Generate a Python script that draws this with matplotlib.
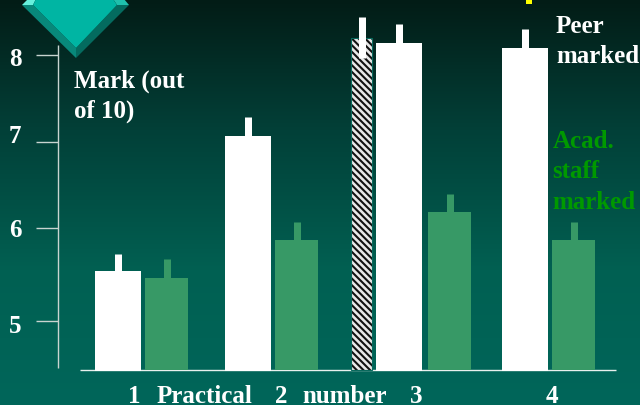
import matplotlib
matplotlib.use("Agg")
import matplotlib.pyplot as plt
from matplotlib.patches import Polygon, Rectangle
import numpy as np

# %% Dane
practical_labels = ["1", "2", "3", "4"]
peer_marks = [5.56, 7.09, 8.13, 8.08]
peer_err_top = [5.75, 7.30, 8.35, 8.29]
acad_marks = [5.48, 5.91, 6.23, 5.91]
acad_err_top = [5.69, 6.11, 6.43, 6.11]
extra_mark = 8.19
extra_err = (7.97, 8.43)
y_tick_labels = ["5", "6", "7", "8"]
y_tick_values = [5.0, 6.04, 7.02, 8.0]

peer_left = [95, 225, 376, 502]
acad_left = [145, 275, 428, 552]
peer_w = 46
acad_w = 43

W, H = 640, 405
PX_PER_MARK = 88.5
BASE_Y = 370
BASE_VALUE = 5 - (BASE_Y - 320.5) / PX_PER_MARK


def y_of(pix):
    # piksel od gory -> wartosc na osi ocen
    return 5 + (320.5 - pix) / PX_PER_MARK


WHITE = "#ffffff"
GREEN = "#379966"
LABEL_GREEN = "#009900"

plt.rcParams["font.family"] = ["Liberation Serif", "DejaVu Serif"]
plt.rcParams["font.weight"] = "bold"
plt.rcParams["hatch.linewidth"] = 1.5

fig = plt.figure(figsize=(W / 100, H / 100), dpi=100)
ax = fig.add_axes([0, 0, 1, 1])
ax.set_xlim(0, W)
ax.set_ylim(y_of(H), y_of(0))

# %% Tlo
stops_y = np.array([0, 130, 270, 405])
stops_rgb = np.array([[3, 28, 22], [2, 64, 56], [1, 96, 82], [0, 102, 90]])
grad_y = np.arange(H)
grad = np.stack([np.interp(grad_y, stops_y, stops_rgb[:, i]) for i in range(3)], axis=1)
ax.imshow(grad[:, None, :] / 255, extent=[0, W, y_of(H), y_of(0)], aspect="auto", zorder=0)

# %% Slupki
pt_per_px = 72 / 100
peer_base = BASE_VALUE - 1 / PX_PER_MARK
for left, top, err in zip(peer_left, peer_marks, peer_err_top):
    ax.bar(left, top - peer_base, peer_w, bottom=peer_base, align="edge", color=WHITE, zorder=3)
    ax.vlines(left + peer_w / 2, top, err, color=WHITE, lw=7 * pt_per_px, zorder=3)
for left, top, err in zip(acad_left, acad_marks, acad_err_top):
    ax.bar(left, top - BASE_VALUE, acad_w, bottom=BASE_VALUE, align="edge", color=GREEN, zorder=3)
    ax.vlines(left + acad_w / 2, top, err, color=GREEN, lw=7 * pt_per_px, zorder=3)

ax.bar(351, extra_mark - BASE_VALUE, 21, bottom=BASE_VALUE, align="edge", facecolor="#e8e8e8",
       edgecolor="#111111", hatch="\\\\\\\\\\", lw=0, zorder=3)
ax.bar(351, extra_mark - BASE_VALUE, 21, bottom=BASE_VALUE, align="edge", facecolor="none",
       edgecolor="#0a6a5e", lw=0.8, zorder=3)
ax.vlines(361.5, extra_err[0], extra_err[1], color=WHITE, lw=7 * pt_per_px, zorder=4)

# %% Osie
axis_color = "#c8d4d0"
ax.vlines(58, y_of(368), y_of(45), color=axis_color, lw=1, zorder=2)
ax.hlines([y_of(369.5)], 80, 616, color="#e8f0ee", lw=1, zorder=2)
ax.hlines(y_tick_values, 36, 58, color=axis_color, lw=1, zorder=2)
ax.set_axis_off()

# %% Romb i zolty znacznik
ax_px = lambda pts: [(x, y_of(y)) for x, y in pts]
ax.add_patch(Polygon(ax_px([(22, 5), (76, 58), (76, 48), (33, 5)]), color="#08887a", zorder=6, lw=0))
ax.add_patch(Polygon(ax_px([(129, 5), (76, 58), (76, 48), (117, 5)]), color="#046b5f", zorder=6, lw=0))
ax.add_patch(Polygon(ax_px([(22, 5), (28, -1), (36, -1), (33, 5)]), color="#66f0dc", zorder=6, lw=0))
ax.add_patch(Polygon(ax_px([(129, 5), (124, -1), (113, -1), (117, 5)]), color="#1fc0ac", zorder=6, lw=0))
ax.add_patch(Polygon(ax_px([(36, -1), (33, 5), (76, 48), (117, 5), (113, -1)]), color="#00b5a3", zorder=7, lw=0))
ax.add_patch(Rectangle((526, y_of(4)), 6, y_of(-1) - y_of(4), color="#ffff00", zorder=6, lw=0))


# %% Napisy
def label(x, y, s, color=WHITE, **kw):
    fig.text(x / W, 1 - y / H, s, color=color, fontsize=18, va="baseline", **kw)


for s, base in zip(y_tick_labels, [333, 237, 143, 66]):
    label(9, base, s)

label(74, 88, "Mark (out")
label(74, 118, "of 10)")
label(556, 33, "Peer")
label(556, 63, "marked")
label(553, 148, "Acad.", LABEL_GREEN)
label(552, 178, "staff", LABEL_GREEN)
label(552, 209, "marked", LABEL_GREEN)

label(128, 403, practical_labels[0])
label(157, 403, "Practical")
label(275, 403, practical_labels[1])
label(302, 403, "number")
label(410, 403, practical_labels[2])
label(546, 403, practical_labels[3])

fig.savefig("out.png", dpi=100)
